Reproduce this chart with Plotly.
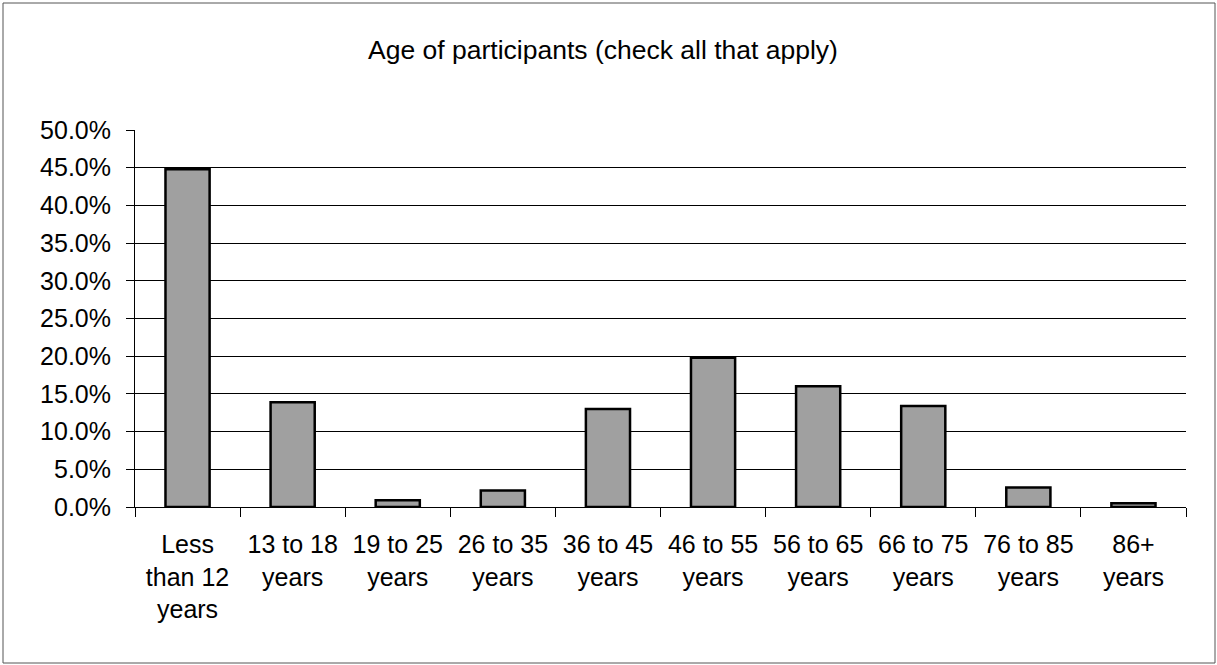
import plotly.graph_objects as go

categories = [
    "Less<br>than 12<br>years",
    "13 to 18<br>years",
    "19 to 25<br>years",
    "26 to 35<br>years",
    "36 to 45<br>years",
    "46 to 55<br>years",
    "56 to 65<br>years",
    "66 to 75<br>years",
    "76 to 85<br>years",
    "86+<br>years",
]
values = [44.8, 13.9, 0.9, 2.2, 13.0, 19.8, 16.0, 13.4, 2.6, 0.5]
y_tick_values = [0, 5, 10, 15, 20, 25, 30, 35, 40, 45, 50]
y_tick_labels = ["0.0%", "5.0%", "10.0%", "15.0%", "20.0%", "25.0%",
                 "30.0%", "35.0%", "40.0%", "45.0%", "50.0%"]
title_text = "Age of participants (check all that apply)"

W, H = 1217, 665
L, R, T, B = 135, 1186, 130, 507  # plot area pixel box
pw, ph = R - L, B - T

fig = go.Figure(
    go.Bar(
        x=categories,
        y=values,
        width=0.42,
        marker=dict(color="#a0a0a0", line=dict(color="black", width=2.5)),
        hoverinfo="x+y",
    )
)

fig.update_layout(
    width=W,
    height=H,
    margin=dict(l=L, r=W - R, t=T, b=H - B, pad=0),
    paper_bgcolor="white",
    plot_bgcolor="white",
    showlegend=False,
    font=dict(family="Liberation Sans, Arial, sans-serif", size=25, color="black"),
    title=dict(
        text=title_text,
        x=603 / W,
        xanchor="center",
        y=1 - 50 / H,
        yanchor="middle",
        font=dict(size=26.5, color="black"),
    ),
    shapes=[
        dict(
            type="rect",
            xref="paper",
            yref="paper",
            x0=(3 - L) / pw,
            x1=(1215 - L) / pw,
            y0=(B - 663) / ph,
            y1=(B - 3) / ph,
            line=dict(color="#555555", width=1),
            fillcolor="rgba(0,0,0,0)",
            layer="below",
        )
    ],
)

fig.update_xaxes(
    type="category",
    tickson="boundaries",
    ticks="outside",
    ticklen=9,
    tickwidth=1,
    tickcolor="black",
    showline=True,
    linecolor="black",
    linewidth=1,
    showgrid=False,
    tickangle=0,
    ticklabelstandoff=15,
)

fig.update_yaxes(
    range=[0, 50],
    tickmode="array",
    tickvals=y_tick_values,
    ticktext=y_tick_labels,
    showgrid=True,
    gridcolor="black",
    gridwidth=1,
    ticks="outside",
    ticklen=8,
    tickwidth=1,
    tickcolor="black",
    showline=True,
    linecolor="black",
    linewidth=1,
    zeroline=False,
    ticklabelstandoff=10,
)

fig.write_html(
    "out.html",
    config={"displayModeBar": False},
    post_script="document.body.style.margin='0px';",
)
